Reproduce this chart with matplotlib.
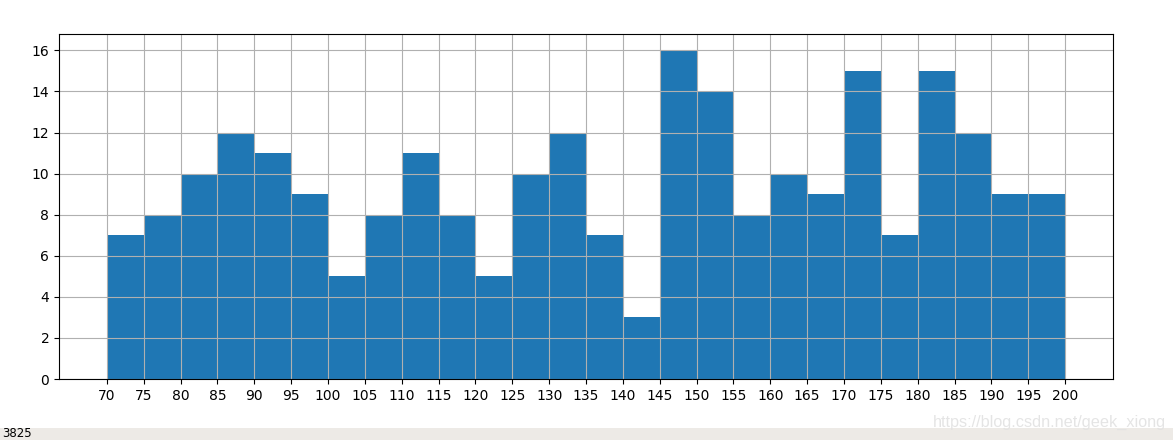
import numpy as np
import matplotlib.pyplot as plt
from matplotlib.patches import Rectangle

# histogram bin edges and counts
bin_edges = list(range(70, 205, 5))
counts = [7, 8, 10, 12, 11, 9, 5, 8, 11, 8, 5, 10, 12, 7, 3,
          16, 14, 8, 10, 9, 15, 7, 15, 12, 9, 9]
tick_values = list(range(70, 205, 5))

status_text = "3825"
watermark = "https://blog.csdn.net/geek_xiong"

fig = plt.figure(figsize=(11.73, 4.40), dpi=100)
ax = fig.add_axes([59 / 1173, 1 - 379 / 440, (1113 - 59) / 1173, (379 - 34) / 440])

ax.hist(bin_edges[:-1], bins=bin_edges, weights=counts, color="#1f77b4")
ax.set_xticks(tick_values)
ax.grid(True)

# toolbar strip along the bottom of the window
fig.patches.append(Rectangle((0, 0), 1, 12 / 440, transform=fig.transFigure,
                             facecolor="#edeae6", edgecolor="none", zorder=0))
fig.text(2 / 1173, 0, status_text, fontsize=8.5, color="black", va="bottom")
fig.text(1166 / 1173, 1 - 422 / 440, watermark, fontsize=11.7, color="#e2e2e2",
         family="Liberation Sans", ha="right", va="center", alpha=0.9)

fig.savefig("out.png", dpi=100)
